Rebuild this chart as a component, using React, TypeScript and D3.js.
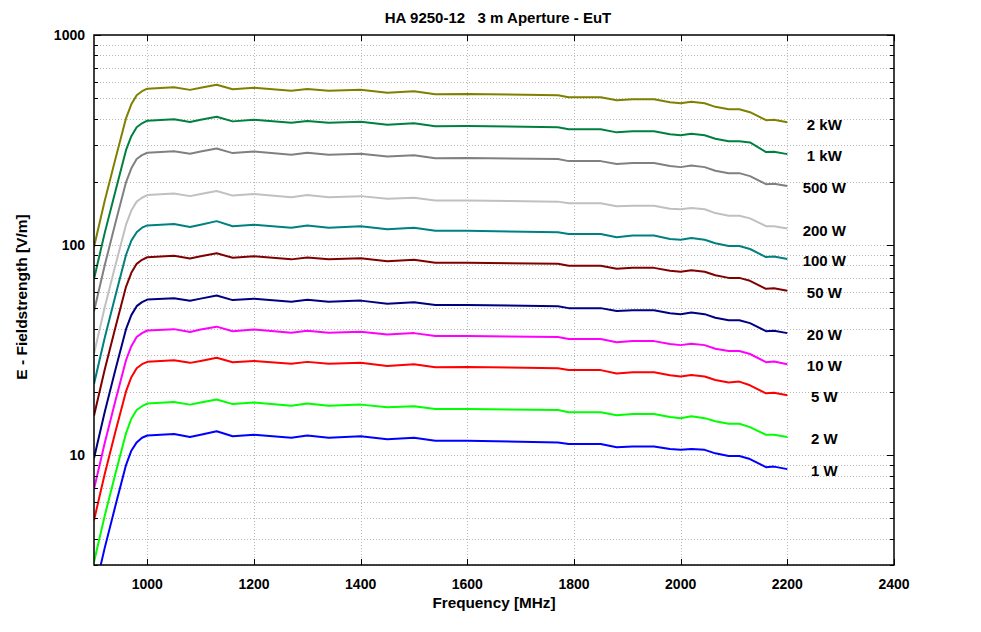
import * as d3 from "d3";

const freqs = [900, 920, 940, 960, 970, 980, 990, 1000, 1050, 1080, 1100, 1130, 1160, 1200, 1270, 1300, 1340, 1400, 1450, 1500, 1540, 1600, 1770, 1790, 1850, 1880, 1910, 1950, 1980, 2000, 2020, 2045, 2065, 2090, 2110, 2130, 2160, 2175, 2200];

const p2kW = [98, 162, 256, 401, 468, 517, 540, 555, 564, 548, 561, 580, 552, 561, 543, 554, 543, 549, 531, 540, 522, 524, 517, 505, 505, 489, 495, 495, 479, 473, 481, 473, 455, 443, 443, 429, 393, 395, 384];
const p1kW = [69, 114, 180, 283, 330, 364, 380, 391, 397, 385, 395, 408, 388, 395, 382, 390, 382, 386, 374, 380, 368, 369, 364, 356, 356, 344, 348, 348, 337, 333, 339, 333, 321, 312, 312, 308, 277, 278, 271];
const p500W = [48.4, 80, 127, 199, 232, 257, 268, 275, 280, 272, 279, 288, 274, 279, 269, 275, 269, 272, 264, 268, 259, 260, 257, 251, 251, 243, 246, 246, 238, 235, 239, 235, 226, 220, 220, 213, 195, 196, 191];
const p200W = [30.4, 50.4, 79.9, 125, 146, 161, 168, 173, 176, 171, 175, 181, 172, 175, 169, 173, 169, 171, 166, 168, 163, 163, 161, 158, 158, 153, 154, 154, 149, 148, 150, 148, 142, 138, 138, 134, 123, 123, 120];
const p100W = [21.8, 36.1, 57.2, 89.7, 105, 115, 121, 124, 126, 122, 125, 130, 123, 125, 121, 124, 121, 123, 119, 121, 117, 117, 115, 113, 113, 109, 111, 111, 107, 106, 108, 106, 102, 99, 99, 95.8, 87.7, 88.2, 85.8];
const p50W = [15.4, 25.5, 40.4, 63.3, 73.8, 81.4, 85.1, 87.5, 88.9, 86.3, 88.4, 91.4, 87.0, 88.4, 85.5, 87.3, 85.5, 86.5, 83.7, 85.1, 82.3, 82.5, 81.4, 79.7, 79.7, 77.1, 77.9, 77.9, 75.4, 74.6, 75.8, 74.6, 71.8, 69.8, 69.8, 67.6, 61.9, 62.3, 60.6];
const p20W = [9.67, 16.0, 25.4, 39.8, 46.4, 51.2, 53.5, 55.0, 55.9, 54.3, 55.6, 57.5, 54.7, 55.6, 53.8, 54.9, 53.8, 54.4, 52.6, 53.5, 51.8, 51.9, 51.2, 50.1, 50.1, 48.5, 49.0, 49.0, 47.4, 46.9, 47.7, 46.9, 45.1, 43.9, 43.9, 42.5, 38.9, 39.1, 38.1];
const p10W = [6.89, 11.4, 18.1, 28.3, 33.0, 36.5, 38.1, 39.2, 39.8, 38.6, 39.6, 40.9, 38.9, 39.6, 38.3, 39.1, 38.3, 38.7, 37.5, 38.1, 36.9, 36.9, 36.5, 35.7, 35.7, 34.5, 34.9, 34.9, 33.8, 33.4, 33.9, 33.4, 32.1, 31.3, 31.3, 30.3, 27.7, 27.9, 27.1];
const p5W = [4.9, 8.11, 12.9, 20.1, 23.5, 25.9, 27.1, 27.8, 28.3, 27.5, 28.1, 29.1, 27.7, 28.1, 27.2, 27.8, 27.2, 27.5, 26.6, 27.1, 26.2, 26.3, 25.9, 25.4, 25.4, 24.5, 24.8, 24.8, 24.0, 23.7, 24.1, 23.7, 22.8, 22.2, 22.4, 21.5, 19.7, 19.8, 19.3];
const p2W = [3.1, 5.13, 8.13, 12.7, 14.9, 16.4, 17.1, 17.6, 17.9, 17.4, 17.8, 18.4, 17.5, 17.8, 17.2, 17.6, 17.2, 17.4, 16.9, 17.1, 16.6, 16.6, 16.4, 16.0, 16.0, 15.5, 15.7, 15.7, 15.2, 15.0, 15.3, 15.0, 14.5, 14.1, 14.1, 13.6, 12.5, 12.5, 12.2];
const p1W = [2.18, 3.61, 5.72, 8.97, 10.5, 11.5, 12.1, 12.4, 12.6, 12.2, 12.5, 13.0, 12.3, 12.5, 12.1, 12.4, 12.1, 12.3, 11.9, 12.1, 11.7, 11.7, 11.5, 11.3, 11.3, 10.9, 11.0, 11.0, 10.7, 10.6, 10.7, 10.6, 10.2, 9.9, 9.9, 9.58, 8.77, 8.82, 8.58];

const seriesLabels = ["2 kW", "1 kW", "500 W", "200 W", "100 W", "50 W", "20 W", "10 W", "5 W", "2 W", "1 W"];
const seriesValues = [p2kW, p1kW, p500W, p200W, p100W, p50W, p20W, p10W, p5W, p2W, p1W];
const seriesColors = ["#808000", "#008040", "#808080", "#c0c0c0", "#008080", "#800000", "#000080", "#ff00ff", "#ff0000", "#00ff00", "#0000ff"];

const xTicks = [1000, 1200, 1400, 1600, 1800, 2000, 2200, 2400];
const yMajor = [10, 100, 1000];

const W = 981;
const H = 632;
const left = 94;
const right = 894;
const top = 35;
const bottom = 565;
const font = "'Liberation Sans', Arial, Helvetica, sans-serif";

export default function App() {
  const x = d3.scaleLinear().domain([900, 2400]).range([left, right]);
  const y = d3.scaleLog().domain([3, 1000]).range([bottom, top]);

  // minor log grid values 2..9 per decade inside the domain
  const yMinor: number[] = [];
  [1, 10, 100].forEach((d) => {
    for (let k = 2; k <= 9; k++) {
      const v = k * d;
      if (v >= 3 && v < 1000) yMinor.push(v);
    }
  });

  const line = d3
    .line<number>()
    .x((_, i) => x(freqs[i]))
    .y((v) => y(v));

  const textStyle = { fontFamily: font, fontWeight: "bold", fontSize: 14, fill: "#000" };
  const bigText = { ...textStyle, fontSize: 15 };

  return (
    <svg width={W} height={H} style={{ position: "absolute", left: 0, top: 0, background: "#fff" }}>
      <defs>
        <clipPath id="plot">
          <rect x={left} y={top} width={right - left} height={bottom - top} />
        </clipPath>
      </defs>
      <rect width={W} height={H} fill="#fff" />

      {/* grid */}
      <g stroke="#b8b8b8" strokeWidth={1} strokeDasharray="1,2" shapeRendering="crispEdges">
        {[...yMinor, ...yMajor.filter((v) => v < 1000)].map((v) => (
          <line key={"gy" + v} x1={left} x2={right} y1={Math.round(y(v)) + 0.5} y2={Math.round(y(v)) + 0.5} />
        ))}
        {xTicks.filter((t) => t < 2400).map((t) => (
          <line key={"gx" + t} x1={Math.round(x(t)) + 0.5} x2={Math.round(x(t)) + 0.5} y1={top} y2={bottom} />
        ))}
      </g>

      {/* curves */}
      <g clipPath="url(#plot)" fill="none" strokeWidth={2} strokeLinejoin="round">
        {seriesValues.map((vals, i) => (
          <path key={seriesLabels[i]} d={line(vals) || ""} stroke={seriesColors[i]} />
        ))}
      </g>

      {/* ticks */}
      <g stroke="#000" strokeWidth={1} shapeRendering="crispEdges">
        {xTicks.map((t) => (
          <g key={"tx" + t}>
            <line x1={Math.round(x(t)) + 0.5} x2={Math.round(x(t)) + 0.5} y1={bottom} y2={bottom - 6} />
            <line x1={Math.round(x(t)) + 0.5} x2={Math.round(x(t)) + 0.5} y1={top} y2={top + 6} />
          </g>
        ))}
        {yMinor.map((v) => (
          <g key={"ty" + v}>
            <line x1={left} x2={left + 4} y1={Math.round(y(v)) + 0.5} y2={Math.round(y(v)) + 0.5} />
            <line x1={right} x2={right - 4} y1={Math.round(y(v)) + 0.5} y2={Math.round(y(v)) + 0.5} />
          </g>
        ))}
        {yMajor.map((v) => (
          <g key={"tY" + v}>
            <line x1={left} x2={left + 7} y1={Math.round(y(v)) + 0.5} y2={Math.round(y(v)) + 0.5} />
            <line x1={right} x2={right - 7} y1={Math.round(y(v)) + 0.5} y2={Math.round(y(v)) + 0.5} />
          </g>
        ))}
      </g>

      {/* frame */}
      <rect x={left} y={top} width={right - left} height={bottom - top} fill="none" stroke="#000" strokeWidth={1.5} />

      {/* tick labels */}
      {xTicks.map((t) => (
        <text key={"lx" + t} x={x(t)} y={bottom + 24} textAnchor="middle" style={textStyle}>
          {t}
        </text>
      ))}
      {yMajor.map((v) => (
        <text key={"ly" + v} x={left - 9} y={y(v)} dy="0.35em" textAnchor="end" style={textStyle}>
          {v}
        </text>
      ))}

      {/* series labels */}
      {seriesValues.map((vals, i) => (
        <text
          key={"sl" + i}
          x={x(freqs[freqs.length - 1]) + 37}
          y={y(vals[vals.length - 1]) + 2}
          dy="0.35em"
          textAnchor="middle"
          style={bigText}
        >
          {seriesLabels[i]}
        </text>
      ))}

      {/* titles */}
      <text x={498} y={23} textAnchor="middle" style={{ ...bigText, whiteSpace: "pre" }} xmlSpace="preserve">
        {"HA 9250-12   3 m Aperture - EuT"}
      </text>
      <text x={494} y={608} textAnchor="middle" style={{ ...bigText, fontSize: 15.3 }}>
        Frequency [MHz]
      </text>
      <text
        transform={`translate(${27},${297}) rotate(-90)`}
        textAnchor="middle"
        style={{ ...bigText, fontSize: 15.5 }}
      >
        E - Fieldstrength [V/m]
      </text>
    </svg>
  );
}
